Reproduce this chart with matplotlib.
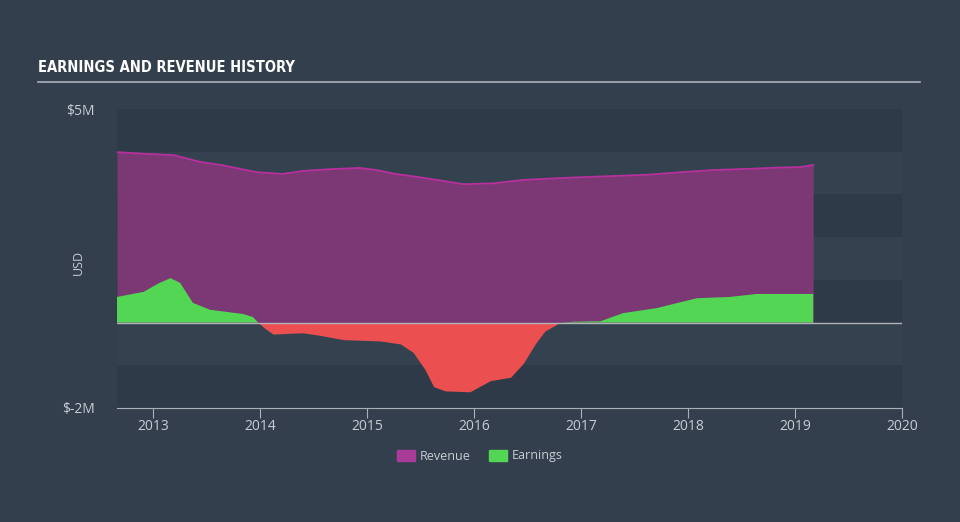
import matplotlib.pyplot as plt
import numpy as np
from matplotlib.patches import Patch

# values in $M, x in decimal years
rev_years = [2012.66, 2012.93, 2013.19, 2013.44, 2013.63, 2013.81, 2013.97, 2014.21, 2014.40,
             2014.65, 2014.93, 2015.09, 2015.26, 2015.47, 2015.65, 2015.90, 2016.18, 2016.46,
             2016.87, 2017.18, 2017.62, 2017.93, 2018.23, 2018.58, 2018.86, 2019.05, 2019.17]
revenue = [3.99, 3.95, 3.92, 3.76, 3.69, 3.60, 3.52, 3.48, 3.55,
           3.59, 3.62, 3.57, 3.48, 3.41, 3.34, 3.24, 3.26, 3.34,
           3.39, 3.42, 3.46, 3.52, 3.57, 3.60, 3.63, 3.64, 3.69]

earn_years = [2012.66, 2012.91, 2013.05, 2013.16, 2013.25, 2013.37, 2013.53, 2013.84, 2013.93,
              2013.98, 2014.05, 2014.12, 2014.28, 2014.40, 2014.56, 2014.78, 2015.12, 2015.31,
              2015.43, 2015.54, 2015.62, 2015.73, 2015.96, 2016.15, 2016.34, 2016.46, 2016.57,
              2016.66, 2016.80, 2016.94, 2017.18, 2017.39, 2017.71, 2018.08, 2018.39, 2018.64,
              2019.17]
earnings = [0.60, 0.72, 0.92, 1.04, 0.93, 0.46, 0.30, 0.20, 0.13,
            0.0, -0.15, -0.27, -0.25, -0.24, -0.30, -0.40, -0.43, -0.50,
            -0.70, -1.10, -1.50, -1.60, -1.62, -1.36, -1.28, -0.95, -0.50,
            -0.20, 0.0, 0.02, 0.03, 0.22, 0.34, 0.57, 0.60, 0.67,
            0.67]

year_ticks = [2013, 2014, 2015, 2016, 2017, 2018, 2019, 2020]

bg = '#333f4d'
fig = plt.figure(figsize=(9.6, 5.22), dpi=100, facecolor=bg)
ax = fig.add_axes([117/960, 114/522, 785/960, 299/522])
ax.set_facecolor(bg)

ax.set_xlim(2012.66, 2020.0)
ax.set_ylim(-2, 5)

# horizontal bands
for i, lo in enumerate(range(-2, 5)):
    c = '#2e3a48' if i % 2 == 0 else '#344250'
    ax.axhspan(lo, lo + 1, color=c, lw=0, zorder=0)

rx = np.array(rev_years)
ry = np.array(revenue)
ax.fill_between(rx, 0, ry, color='#7b3874', lw=0, zorder=2)
ax.plot(rx, ry, color='#b8309e', lw=1.3, zorder=3)

ex = np.array(earn_years)
ey = np.array(earnings)
ax.fill_between(ex, 0, ey, where=ey >= 0, interpolate=True, color='#53d653', lw=0, zorder=4)
ax.fill_between(ex, 0, ey, where=ey <= 0, interpolate=True, color='#eb4f50', lw=0, zorder=4)

ax.axhline(0, color='#b0b4b8', lw=1, zorder=5)

for s in ['top', 'right', 'left']:
    ax.spines[s].set_visible(False)
ax.spines['bottom'].set_color('#aab0b8')

ax.set_yticks([-2, 5])
ax.set_yticklabels(['$-2M', '$5M'])
ax.tick_params(axis='y', length=0, pad=16, labelcolor='#c8cdd3', labelsize=10)
ax.set_xticks(year_ticks)
ax.set_xticklabels([str(y) for y in year_ticks])
ax.tick_params(axis='x', length=7, color='#aab0b8', labelcolor='#c8cdd3', labelsize=10, pad=1)
for lbl in ax.get_xticklabels() + ax.get_yticklabels():
    lbl.set_family('Open Sans')

fig.text(78/960, 1 - 262/522, 'USD', rotation=90, color='#c8cdd3', fontsize=9,
         family='Open Sans', ha='center', va='center')

# title and underline
fig.text(38/960, 1 - 68/522, 'EARNINGS AND REVENUE HISTORY', color='white', fontsize=10.5,
         fontweight='bold', fontstretch='condensed', family='DejaVu Sans', va='center')
fig.add_artist(plt.Line2D([38/960, 920/960], [1 - 82/522, 1 - 82/522],
                          color='#aab0b8', lw=1.2))

# legend
handles = [Patch(color='#a83a98', label='Revenue'), Patch(color='#53d653', label='Earnings')]
fig.legend(handles=handles, loc='center', bbox_to_anchor=(0.5, 1 - 456/522), ncol=2,
           frameon=False, handlelength=1.4, handleheight=1.0,
           columnspacing=1.5, handletextpad=0.4, labelcolor='#c8cdd3',
           prop={'family': 'Open Sans', 'size': 9})

fig.savefig('out.png', dpi=100, facecolor=bg)
